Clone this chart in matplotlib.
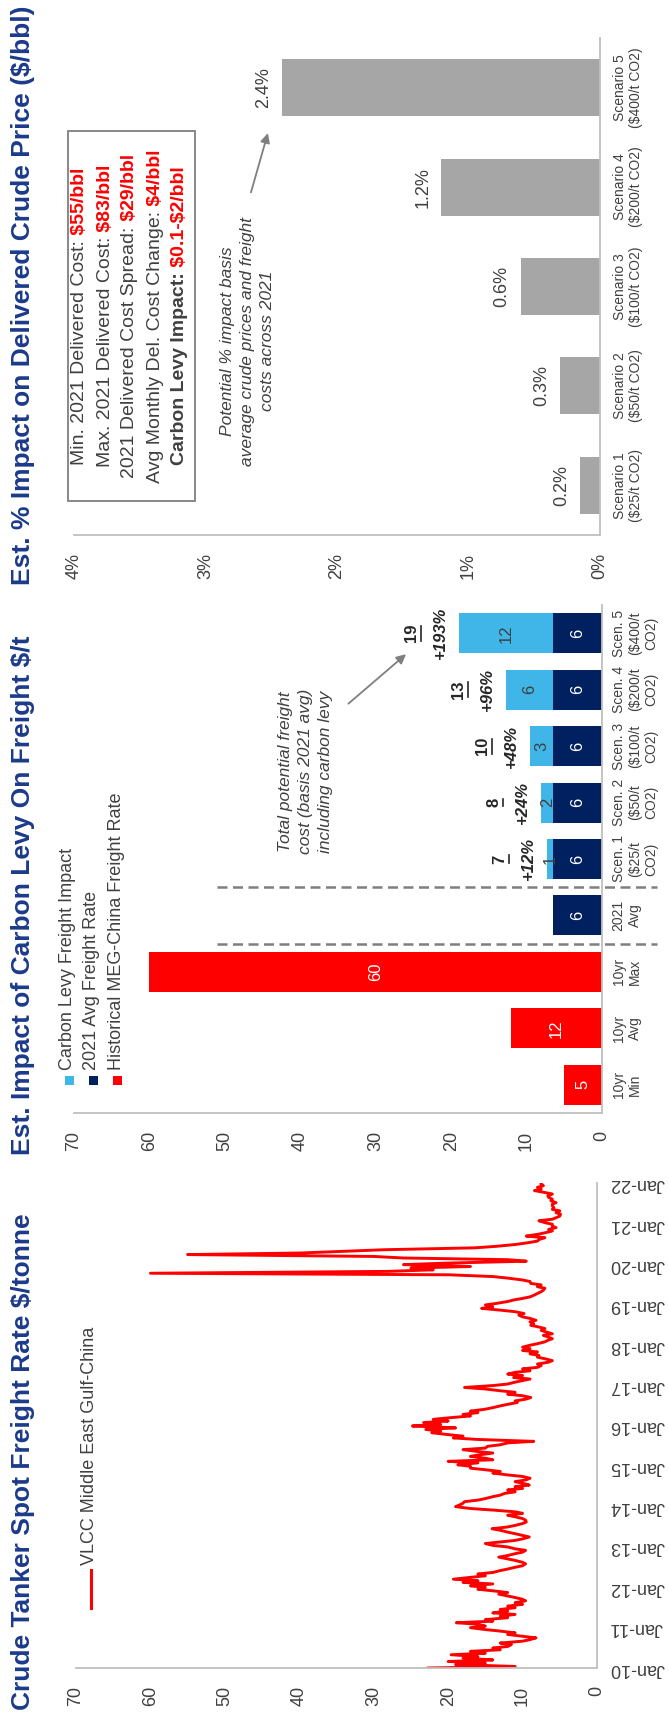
import numpy as np
import pandas as pd
import matplotlib
matplotlib.use("Agg")
import matplotlib.pyplot as plt
import matplotlib.dates as mdates
from matplotlib.patches import Rectangle
from matplotlib.lines import Line2D
from matplotlib.transforms import offset_copy

plt.rcParams['font.family'] = ['Liberation Sans', 'DejaVu Sans']

W, H = 669, 1720
RED = '#FF0000'
NAVY = '#002060'
LIGHT = '#3FB5E8'
GREY_BAR = '#A6A6A6'
TITLE = '#1B3A8A'
TXT = '#404040'
SPINE = '#BFBFBF'

# --- VLCC MEG-China spot rate, $/t, semi-monthly from Jan-2010 ---
rate_2010 = [22.7, 11, 19, 15, 20, 14, 18, 16, 19.6, 15, 17, 13, 14, 12, 11.5, 13, 10, 9, 8.2, 10, 12, 11, 13, 15]
rate_2011 = [17, 15, 16, 18.9, 14, 15, 12, 13, 11, 14, 12, 13, 11, 12, 10, 11, 9.6, 10, 11, 12, 13.2, 12, 14, 16]
rate_2012 = [15, 17, 14, 18, 16, 19.3, 17, 15, 16, 14, 13, 12, 11, 10, 9.6, 10, 11, 12, 13.2, 12, 11, 10, 9.6, 11]
rate_2013 = [12, 14, 15, 13, 11, 10, 9.1, 10, 11, 12, 13, 14.1, 12, 11, 10, 9.5, 9.6, 10, 11, 12, 10, 11, 14, 17]
rate_2014 = [19, 18.5, 18, 17.8, 16, 15, 14, 13, 12.4, 11, 12, 10, 11, 9.1, 10, 11, 9.5, 9, 10, 12, 14, 13, 15, 17]
rate_2015 = [17, 18.7, 16, 20, 14, 15, 17, 15.8, 14, 16, 18, 15, 14.7, 13, 12, 8.5, 16, 19.3, 18, 20, 22.2, 21, 23, 19]
rate_2016 = [24.8, 21, 23.3, 20, 22, 19.9, 17, 18, 16, 17, 15, 14, 13, 12, 10.7, 11, 9.5, 8.9, 10, 12, 11, 13, 15, 17.8]
rate_2017 = [14, 12, 11, 10, 9, 11.2, 10, 12, 11, 9, 10, 8, 7.5, 8, 6.5, 6, 7, 8, 7.8, 9, 8, 10, 9, 10]
rate_2018 = [9, 8, 7, 6.6, 6, 6.5, 7.2, 6, 6.8, 7.5, 7, 7.8, 8.9, 8.5, 9, 8.2, 9, 10, 10.5, 9.8, 11, 13, 15.5, 14]
rate_2019 = [15, 13.5, 12, 11.2, 10, 9, 8.4, 8, 7.5, 7.2, 7, 8, 7.5, 8.9, 9, 10, 12, 14, 19.9, 60, 28, 22, 25, 17]
rate_2020 = [26, 20, 9.5, 12, 26, 30, 55, 40, 34, 28.5, 16.4, 13.5, 11, 9.5, 8, 7.8, 7, 9.5, 8, 7, 6, 6.5, 5.5, 6]
rate_2021 = [6, 7, 7.8, 6, 5.5, 5, 4.9, 5.5, 5, 6, 5.8, 6, 6, 5.5, 6.2, 6, 6.5, 6.6, 6, 7, 8.4, 7.5, 8, 7.2]
rate_2022 = [7.5]
spot_rate = (rate_2010 + rate_2011 + rate_2012 + rate_2013 + rate_2014 + rate_2015 + rate_2016
             + rate_2017 + rate_2018 + rate_2019 + rate_2020 + rate_2021 + rate_2022)
spot_dates = pd.date_range('2010-01-01', periods=len(spot_rate), freq='SMS')
year_ticks = pd.date_range('2010-01-01', '2022-01-01', freq='YS')

# --- carbon levy on freight ---
levy_labels = ['10yr\nMin', '10yr\nAvg', '10yr\nMax', '2021\nAvg',
               'Scen. 1\n($25/t\nCO2)', 'Scen. 2\n($50/t\nCO2)', 'Scen. 3\n($100/t\nCO2)',
               'Scen. 4\n($200/t\nCO2)', 'Scen. 5\n($400/t\nCO2)']
hist_rate = [5, 12, 60]
avg_2021 = 6.48
levy_impact = [0.78, 1.56, 3.11, 6.22, 12.5]

# --- % impact on delivered crude ---
scen_labels = ['Scenario 1\n($25/t CO2)', 'Scenario 2\n($50/t CO2)', 'Scenario 3\n($100/t CO2)',
               'Scenario 4\n($200/t CO2)', 'Scenario 5\n($400/t CO2)']
crude_impact = [0.151, 0.302, 0.604, 1.208, 2.416]

box_lines = [
    [('Min. 2021 Delivered Cost:', TXT, 'normal'), (' $55/bbl', RED, 'bold')],
    [('Max. 2021 Delivered Cost:', TXT, 'normal'), (' $83/bbl', RED, 'bold')],
    [('2021 Delivered Cost Spread:', TXT, 'normal'), (' $29/bbl', RED, 'bold')],
    [('Avg Monthly Del. Cost Change:', TXT, 'normal'), (' $4/bbl', RED, 'bold')],
    [('Carbon Levy Impact:', TXT, 'bold'), (' $0.1-$2/bbl', RED, 'bold')],
]

fig = plt.figure(figsize=(W / 100, H / 100), dpi=100)
renderer = fig.canvas.get_renderer()


def fpos(x, y):
    # pixel position (top-left origin) -> figure fraction
    return x / W, 1 - y / H


def rich_line(cx, cy, pieces, size):
    texts = []
    for s, color, weight in pieces:
        texts.append(fig.text(0, 0, s, rotation=90, ha='center', va='bottom', fontsize=size,
                              color=color, fontweight=weight, parse_math=False))
    lengths = [t.get_window_extent(renderer).height for t in texts]
    y = cy + sum(lengths) / 2
    for t, h in zip(texts, lengths):
        t.set_position(fpos(cx, y))
        y -= h


def style_axes(ax, ypad):
    for side in ['top', 'left']:
        ax.spines[side].set_visible(False)
    for side in ['bottom', 'right']:
        ax.spines[side].set_color(SPINE)
        ax.spines[side].set_linewidth(1.3)
    ax.yaxis.tick_right()
    ax.tick_params(axis='x', length=0, pad=13, labelsize=13, labelcolor=TXT, labelrotation=90)
    ax.tick_params(axis='y', length=0, pad=ypad, labelcolor=TXT)


def title(y_bottom, s):
    fig.text(*fpos(23, y_bottom), s, rotation=90, ha='center', va='bottom', fontsize=19,
             fontweight='bold', color=TITLE)


# ================= top: % impact on delivered crude price =================
ax1 = fig.add_axes([74 / W, (H - 535) / H, 526 / W, 497 / H])
pos1 = np.arange(len(scen_labels))
ax1.barh(pos1, crude_impact, height=0.575, color=GREY_BAR)
ax1.set_xlim(4, 0)
ax1.set_ylim(-0.5, 4.5)
ax1.set_xticks([0, 1, 2, 3, 4])
ax1.set_xticklabels(['%d%%' % v for v in [0, 1, 2, 3, 4]])
ax1.set_yticks(pos1)
ax1.set_yticklabels(scen_labels, fontsize=10, rotation=90)
style_axes(ax1, 9)
for lab in ax1.get_yticklabels():
    lab.set_ha('left')
    lab.set_va('center')
    lab.set_multialignment('center')
    lab.set_linespacing(1.25)
for i, v in enumerate(crude_impact):
    ax1.annotate('%.1f%%' % v, xy=(v, i), xytext=(-10, 0), textcoords='offset pixels',
                 rotation=90, ha='right', va='center', fontsize=13, color=TXT)
ax1.annotate('', xy=(2.52, 3.57), xytext=(2.66, 2.92),
             arrowprops=dict(arrowstyle='-|>', color='#7F7F7F', lw=1.3, mutation_scale=14))
ax1.text(2.68, 1.45, 'Potential % impact basis\naverage crude prices and freight\ncosts across 2021',
         rotation=90, ha='center', va='center', fontsize=12.5, style='italic', color=TXT,
         multialignment='center', linespacing=1.45)

fig.add_artist(Rectangle(fpos(68, 501), 127 / W, 370 / H, transform=fig.transFigure,
                         fill=False, edgecolor='#7F7F7F', lw=1.3))
for k, line in enumerate(box_lines):
    rich_line(80 + 25 * k, 316, line, 14)

title(585, 'Est. % Impact on Delivered Crude Price ($/bbl)')

# ================= middle: carbon levy on freight =================
ax2 = fig.add_axes([74 / W, (H - 1113) / H, 528 / W, 508 / H])
pos2 = np.arange(len(levy_labels))
bh = 0.71
ax2.barh(pos2[:3], hist_rate, height=bh, color=RED)
ax2.barh(pos2[3:], [avg_2021] * 6, height=bh, color=NAVY)
ax2.barh(pos2[4:], levy_impact, left=avg_2021, height=bh, color=LIGHT)
ax2.set_xlim(70, 0)
ax2.set_ylim(-0.5, 8.5)
ax2.set_xticks(range(0, 71, 10))
ax2.set_yticks(pos2)
ax2.set_yticklabels(levy_labels, fontsize=10, rotation=90)
style_axes(ax2, 7)
for lab in ax2.get_yticklabels():
    lab.set_ha('left')
    lab.set_va('center')
    lab.set_multialignment('center')
    lab.set_linespacing(1.2)

for i, v in enumerate(hist_rate):
    ax2.text(v / 2, i, '%.0f' % v, rotation=90, ha='center', va='center', color='white', fontsize=12)
for i in range(3, 9):
    ax2.text(avg_2021 / 2, i, '%.0f' % avg_2021, rotation=90, ha='center', va='center',
             color='white', fontsize=12)
for k, lv in enumerate(levy_impact):
    i = 4 + k
    total = avg_2021 + lv
    ax2.text(avg_2021 + lv / 2, i, '%.0f' % lv, rotation=90, ha='center', va='center',
             color=TXT, fontsize=12)
    ax2.annotate('+%.0f%%' % (lv / avg_2021 * 100), xy=(total, i), xytext=(-11, 0),
                 textcoords='offset pixels', rotation=90, ha='right', va='center',
                 fontsize=12, fontweight='bold', style='italic', color='#262626')
    tot = '%.0f' % total
    ax2.annotate(tot, xy=(total, i), xytext=(-40, 0), textcoords='offset pixels',
                 rotation=90, ha='right', va='center', fontsize=12, fontweight='bold',
                 color='#262626')
    half = len(tot) * 3.8 / 56.4
    uline = offset_copy(ax2.transData, fig=fig, x=-38, y=0, units='dots')
    ax2.plot([total, total], [i - half, i + half], color='#262626', lw=1.2, transform=uline,
             clip_on=False)

for yb in [2.5, 3.5]:
    ax2.plot([51, -7.3], [yb, yb], color='#7F7F7F', lw=1.8, ls=(0, (4, 2.2)), clip_on=False)

ax2.annotate('', xy=(25.7, 7.66), xytext=(33.9, 6.72),
             arrowprops=dict(arrowstyle='-|>', color='#7F7F7F', lw=1.3, mutation_scale=14))
ax2.text(39.3, 5.55, 'Total potential freight\ncost (basis 2021 avg)\nincluding carbon levy',
         rotation=90, ha='center', va='center', fontsize=12.5, style='italic', color=TXT,
         multialignment='center', linespacing=1.45)

# legend, drawn as rotated entries
legend_items = [('Carbon Levy Freight Impact', LIGHT), ('2021 Avg Freight Rate', NAVY),
                ('Historical MEG-China Freight Rate', RED)]
for k, (name, color) in enumerate(legend_items):
    cx = 69 + 24.3 * k
    fig.add_artist(Rectangle(fpos(cx - 4.5, 1085), 9 / W, 9 / H, transform=fig.transFigure,
                             facecolor=color, edgecolor='none'))
    fig.text(*fpos(cx - 1.5, 1070), name, rotation=90, ha='center', va='bottom', fontsize=13,
             color=TXT)

title(1155, 'Est. Impact of Carbon Levy On Freight $/t')

# ================= bottom: spot freight rate =================
ax3 = fig.add_axes([76 / W, (H - 1668) / H, 521 / W, 485 / H])
ydates = mdates.date2num(spot_dates.to_pydatetime())
ax3.plot(spot_rate, ydates, color=RED, lw=2.1)
ax3.set_xlim(70, 0)
ax3.set_ylim(mdates.date2num(year_ticks[0].to_pydatetime()),
             mdates.date2num(year_ticks[-1].to_pydatetime()) + 8)
ax3.set_xticks(range(0, 71, 10))
ax3.set_yticks(mdates.date2num(year_ticks.to_pydatetime()))
ax3.set_yticklabels([d.strftime('%b-%y') for d in year_ticks], fontsize=13, rotation=180)
style_axes(ax3, 9)
for lab in ax3.get_yticklabels():
    lab.set_ha('left')
    lab.set_va('center')

fig.add_artist(Line2D([91 / W, 91 / W], [1 - 1570 / H, 1 - 1608 / H], transform=fig.transFigure,
                      color=RED, lw=2.2))
fig.text(*fpos(89, 1565), 'VLCC Middle East Gulf-China', rotation=90, ha='center', va='bottom',
         fontsize=13, color=TXT)

title(1710, 'Crude Tanker Spot Freight Rate $/tonne')

fig.savefig('out.png', dpi=100)
